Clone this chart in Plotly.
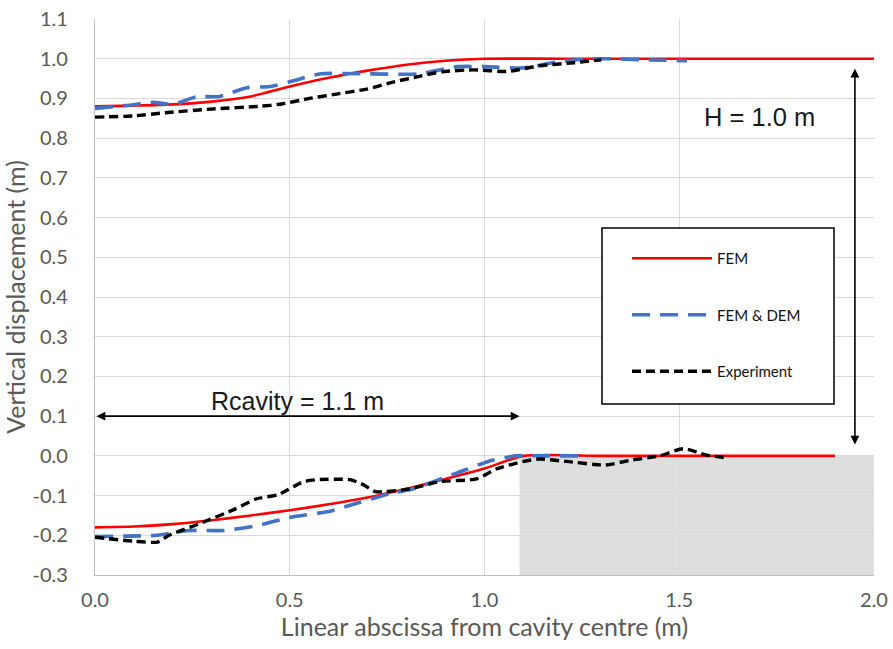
import plotly.graph_objects as go

# ---- data ----
fem_top_x = [0.0, 0.1, 0.2, 0.3, 0.4, 0.5, 0.6, 0.7, 0.8, 0.9, 1.0, 1.2, 1.5, 2.0]
fem_top_y = [0.880, 0.882, 0.885, 0.892, 0.905, 0.930, 0.952, 0.970, 0.985, 0.995, 1.0, 1.0, 1.0, 1.0]
fem_bot_x = [0.0, 0.1, 0.2, 0.3, 0.4, 0.5, 0.6, 0.7, 0.8, 0.9, 1.0, 1.1, 1.3, 1.6, 1.9]
fem_bot_y = [-0.180, -0.178, -0.172, -0.162, -0.150, -0.137, -0.122, -0.105, -0.083, -0.058, -0.032, 0.0, 0.0, 0.0, 0.0]

dem_top_x = [0.0, 0.08, 0.15, 0.2, 0.26, 0.32, 0.39, 0.45, 0.5, 0.58, 0.69, 0.83, 0.93, 1.0, 1.1, 1.2, 1.3, 1.42, 1.52]
dem_top_y = [0.875, 0.882, 0.890, 0.885, 0.904, 0.905, 0.927, 0.930, 0.942, 0.962, 0.962, 0.962, 0.980, 0.980, 0.977, 0.994, 1.0, 0.997, 0.995]
dem_bot_x = [0.0, 0.08, 0.16, 0.24, 0.33, 0.42, 0.5, 0.6, 0.67, 0.76, 0.81, 0.93, 1.01, 1.08, 1.15, 1.25]
dem_bot_y = [-0.203, -0.202, -0.200, -0.188, -0.188, -0.175, -0.155, -0.140, -0.120, -0.094, -0.085, -0.043, -0.014, 0.0, 0.0, 0.0]

exp_top_x = [0.0, 0.1, 0.18, 0.31, 0.42, 0.48, 0.55, 0.62, 0.70, 0.76, 0.83, 0.89, 0.97, 1.06, 1.14, 1.23, 1.30]
exp_top_y = [0.853, 0.856, 0.864, 0.874, 0.880, 0.886, 0.900, 0.911, 0.924, 0.940, 0.955, 0.967, 0.972, 0.968, 0.982, 0.990, 0.997]
exp_bot_x = [0.0, 0.1, 0.16, 0.19, 0.27, 0.355, 0.415, 0.47, 0.535, 0.57, 0.655, 0.69, 0.72, 0.81, 0.885, 0.98, 1.03, 1.1, 1.14, 1.21, 1.31, 1.38, 1.45, 1.51, 1.57, 1.62]
exp_bot_y = [-0.205, -0.215, -0.217, -0.200, -0.170, -0.136, -0.108, -0.098, -0.065, -0.060, -0.060, -0.073, -0.090, -0.083, -0.065, -0.058, -0.033, -0.014, -0.008, -0.014, -0.023, -0.010, 0.0, 0.018, 0.002, -0.005]

x_ticks = [0.0, 0.5, 1.0, 1.5, 2.0]
x_tick_labels = ["0.0", "0.5", "1.0", "1.5", "2.0"]
y_ticks = [-0.3, -0.2, -0.1, 0.0, 0.1, 0.2, 0.3, 0.4, 0.5, 0.6, 0.7, 0.8, 0.9, 1.0, 1.1]
y_tick_labels = ["-0.3", "-0.2", "-0.1", "0.0", "0.1", "0.2", "0.3", "0.4", "0.5", "0.6", "0.7", "0.8", "0.9", "1.0", "1.1"]

cavity_radius = 1.09
H = 1.0


def join(x1, y1, x2, y2):
    return x1 + [None] + x2, y1 + [None] + y2


fig = go.Figure()

fx, fy = join(fem_top_x, fem_top_y, fem_bot_x, fem_bot_y)
dx, dy = join(dem_top_x, dem_top_y, dem_bot_x, dem_bot_y)
ex, ey = join(exp_top_x, exp_top_y, exp_bot_x, exp_bot_y)

fig.add_trace(go.Scatter(x=fx, y=fy, mode="lines", name="FEM", legendgroup="a",
                         line=dict(color="#FF0000", width=2.6, shape="spline", smoothing=0.6)))
fig.add_trace(go.Scatter(x=dx, y=dy, mode="lines", name="FEM & DEM", legendgroup="b",
                         line=dict(color="#4472C4", width=3.6, shape="spline", smoothing=0.6, dash="18px,10px")))
fig.add_trace(go.Scatter(x=ex, y=ey, mode="lines", name="Experiment", legendgroup="c",
                         line=dict(color="#000000", width=3.4, shape="spline", smoothing=0.6, dash="9px,5px")))

# grey region (cavity surroundings)
fig.add_shape(type="rect", xref="x", yref="y", x0=cavity_radius, x1=2.0, y0=-0.3, y1=0.0,
              fillcolor="#DEDEDE", line=dict(width=0), layer="below")

# legend box
fig.add_shape(type="rect", xref="paper", yref="paper",
              x0=(602 - 95) / 779, x1=(834 - 95) / 779,
              y0=(575 - 404) / 556, y1=(575 - 228) / 556,
              line=dict(color="black", width=1.5), fillcolor="white", layer="above")

# horizontal double arrow (cavity radius)
fig.add_annotation(x=cavity_radius, y=0.1, ax=0.0, ay=0.1, xref="x", yref="y", axref="x", ayref="y",
                   text="", showarrow=True, arrowhead=2, arrowside="end+start", arrowsize=1.1,
                   arrowwidth=1.6, arrowcolor="black")
fig.add_annotation(x=0.52, y=0.138, xref="x", yref="y", text="Rcavity = 1.1 m", showarrow=False,
                   font=dict(family="Liberation Sans, Arial", size=25, color="#1a1a1a"))

# vertical double arrow (H)
fig.add_annotation(x=1.951, y=0.975, ax=1.951, ay=0.025, xref="x", yref="y", axref="x", ayref="y",
                   text="", showarrow=True, arrowhead=2, arrowside="end+start", arrowsize=1.1,
                   arrowwidth=1.6, arrowcolor="black")
fig.add_annotation(x=1.705, y=0.852, xref="x", yref="y", text="H = %.1f m" % H, showarrow=False,
                   font=dict(family="Liberation Sans, Arial", size=25.5, color="#1a1a1a"))

fig.update_layout(
    width=893, height=649,
    margin=dict(l=95, r=19, t=19, b=74, autoexpand=False),
    paper_bgcolor="white", plot_bgcolor="white",
    showlegend=True,
    legend=dict(x=(627 - 95) / 779, y=(575 - 242) / 556, xanchor="left", yanchor="top",
                bgcolor="rgba(0,0,0,0)", borderwidth=0, itemwidth=80, tracegroupgap=34,
                font=dict(family="Lato, Open Sans", size=15, color="#111111")),
    xaxis=dict(range=[0, 2.0], tickvals=x_ticks, ticktext=x_tick_labels,
               showgrid=True, gridcolor="#D9D9D9", gridwidth=1.3, zeroline=False,
               showline=True, linecolor="#BFBFBF", linewidth=1.3, ticks="",
               ticklabelstandoff=7, automargin=False,
               tickfont=dict(family="Lato, Open Sans", size=20, color="#595959"),
               title=dict(text="Linear abscissa from cavity centre (m)", standoff=8,
                          font=dict(family="Lato, Open Sans", size=25, color="#595959"))),
    yaxis=dict(range=[-0.3, 1.1], tickvals=y_ticks, ticktext=y_tick_labels,
               showgrid=True, gridcolor="#D9D9D9", gridwidth=1.3, zeroline=False,
               showline=True, linecolor="#BFBFBF", linewidth=1.3, ticks="",
               ticklabelstandoff=22, automargin=False,
               tickfont=dict(family="Lato, Open Sans", size=20, color="#595959"),
               title=dict(text="Vertical displacement (m)", standoff=8,
                          font=dict(family="Lato, Open Sans", size=25, color="#595959"))),
)

fig.write_html("out.html")
